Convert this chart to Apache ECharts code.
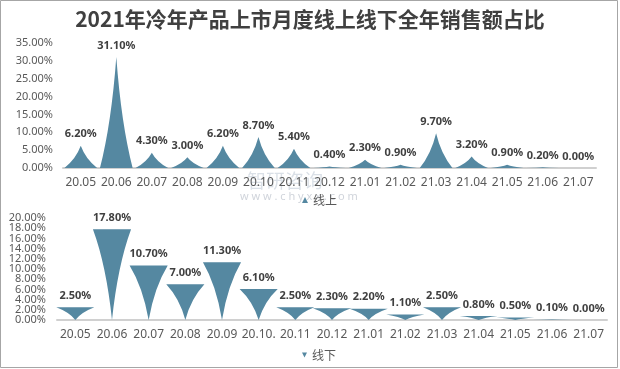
<!DOCTYPE html>
<html><head><meta charset="utf-8">
<script src="https://cdn.jsdelivr.net/npm/echarts@6/dist/echarts.min.js"></script>
<style>html,body{margin:0;padding:0;background:#fff}#c{width:620px;height:369px}</style>
</head><body><div id="c"></div>
<script>
var topCategories = ['20.05','20.06','20.07','20.08','20.09','20.10','20.11','20.12','21.01','21.02','21.03','21.04','21.05','21.06','21.07'];
var bottomCategories = ['20.05','20.06','20.07','20.08','20.09','20.10.','20.11','20.12','21.01','21.02','21.03','21.04','21.05','21.06','21.07'];
var onlineValues = [6.2, 31.1, 4.3, 3.0, 6.2, 8.7, 5.4, 0.4, 2.3, 0.9, 9.7, 3.2, 0.9, 0.2, 0.0];
var offlineValues = [2.5, 17.8, 10.7, 7.0, 11.3, 6.1, 2.5, 2.3, 2.2, 1.1, 2.5, 0.8, 0.5, 0.1, 0.0];
var topTicks = {min: 0, max: 35, interval: 5};
var bottomTicks = {min: 0, max: 20, interval: 2};

var color = '#5588a1';
var font = 'Noto Sans';
var chart = echarts.init(document.getElementById('c'));
function pct(v){ return v.toFixed(2) + '%'; }
var labelStyle = {show: true, position: 'top', distance: 6, fontFamily: font, fontSize: 11, fontWeight: 'bold', color: '#404040',
  formatter: function(p){ return pct(p.value); }};
var axisLabel = {fontFamily: font, fontSize: 12, color: '#595959', interval: 0, hideOverlap: false};
function yLabel(extra){
  return Object.assign({fontFamily: font, fontSize: 11, color: '#595959', hideOverlap: false,
    formatter: function(v){ return pct(v); }}, extra);
}
var hidden = {show: false};
chart.setOption({
  animation: false,
  title: {text: '2021年冷年产品上市月度线上线下全年销售额占比', left: 'center', top: 4,
    textStyle: {fontFamily: 'Noto Sans CJK SC', fontSize: 21, fontWeight: 'bold', color: '#404040'}},
  graphic: [
    {type: 'rect', shape: {x: 0.5, y: 0.5, width: 617, height: 367}, style: {fill: 'none', stroke: '#a6a6a6', lineWidth: 1}, silent: true},
    {type: 'text', left: 247, top: 171, style: {text: '智研咨询', fontFamily: 'Noto Sans CJK SC', fontSize: 19, fill: 'rgba(150,165,185,0.35)'}, silent: true, z: -1},
    {type: 'text', left: 240, top: 191, style: {text: 'w w w . c h y x x . c o m', fontFamily: font, fontSize: 11, fill: 'rgba(150,160,175,0.45)'}, silent: true, z: -1}
  ],
  legend: [
    {data: [{name: '线上', icon: 'triangle'}], left: 297, top: 189, itemWidth: 6, itemHeight: 6, itemGap: 4,
      textStyle: {fontFamily: 'Noto Sans CJK SC', fontSize: 12, color: '#595959'}},
    {data: [{name: '线下', icon: 'path://M0,0 L10,0 L5,10 z'}], left: 297, top: 344, itemWidth: 5, itemHeight: 5, itemGap: 4,
      textStyle: {fontFamily: 'Noto Sans CJK SC', fontSize: 12, color: '#595959'}}
  ],
  grid: [
    {left: 63, right: 24, top: 43, height: 125},
    {left: 57, right: 13, top: 218, height: 102}
  ],
  xAxis: [
    {type: 'category', gridIndex: 0, data: topCategories, axisTick: {show: false},
      axisLine: {lineStyle: {color: '#d0d0d0', width: 2}}, axisLabel: Object.assign({margin: 9}, axisLabel)},
    {type: 'category', gridIndex: 1, data: bottomCategories, axisTick: {show: false},
      axisLine: {lineStyle: {color: '#d0d0d0', width: 2}}, axisLabel: Object.assign({margin: 9}, axisLabel)}
  ],
  yAxis: [
    {type: 'value', gridIndex: 0, min: topTicks.min, max: topTicks.max, interval: topTicks.interval, splitLine: hidden,
      axisLine: hidden, axisTick: hidden,
      axisLabel: yLabel({margin: 10, showMinLabel: true, showMaxLabel: true})},
    {type: 'value', gridIndex: 1, position: 'left', min: bottomTicks.min, max: bottomTicks.max, interval: bottomTicks.interval, splitLine: hidden,
      axisLine: hidden, axisTick: hidden,
      axisLabel: yLabel({margin: 11, showMinLabel: false, showMaxLabel: false})},
    {type: 'value', gridIndex: 1, position: 'left', min: bottomTicks.min, max: bottomTicks.max, interval: bottomTicks.max - bottomTicks.min, splitLine: hidden,
      axisLine: hidden, axisTick: hidden,
      axisLabel: yLabel({margin: 11, showMinLabel: true, showMaxLabel: true})}
  ],
  series: [
    {name: '线上', type: 'pictorialBar', xAxisIndex: 0, yAxisIndex: 0, data: onlineValues,
      barCategoryGap: '8%', symbol: 'path://M0,10 Q3.5,6 5,0 Q6.5,6 10,10 Z',
      itemStyle: {color: color}, label: labelStyle},
    {name: '线下', type: 'pictorialBar', xAxisIndex: 1, yAxisIndex: 1, data: offlineValues,
      barCategoryGap: '-4%', symbol: 'path://M0,0 Q3.5,4 5,10 Q6.5,4 10,0 Z',
      itemStyle: {color: color}, label: labelStyle}
  ]
});
</script></body></html>
